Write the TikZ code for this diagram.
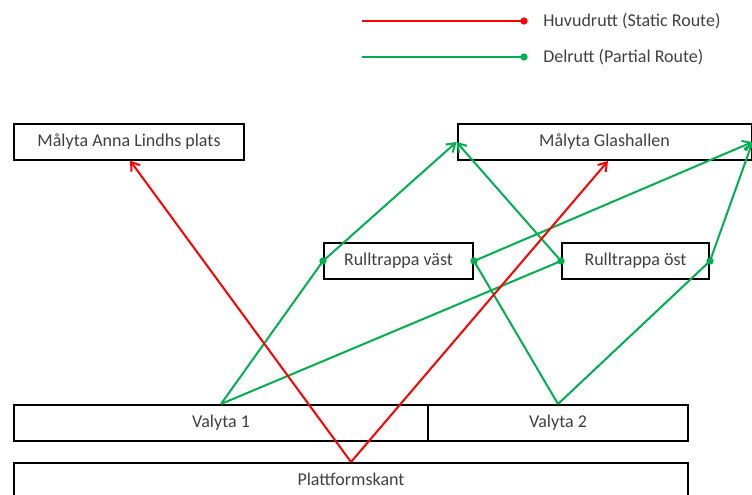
\documentclass[tikz,border=0pt]{standalone}
\usepackage{fontspec}
\setmainfont{Carlito}
\usetikzlibrary{arrows.meta,calc}
\definecolor{routered}{RGB}{255,0,0}
\definecolor{routegreen}{RGB}{0,176,80}
\definecolor{labelgray}{RGB}{64,64,64}
\begin{document}
\begin{tikzpicture}[x=0.75pt,y=-0.75pt,
  labelfont/.style={font=\fontsize{13.5}{16}\selectfont},
  area/.style={draw=black,line width=1.5pt,minimum height=27pt,inner sep=0pt,
    text=labelgray,labelfont},
  legendtext/.style={anchor=west,inner sep=0pt,text=labelgray,labelfont},
  mainroute/.style={draw=routered,line width=1.5pt},
  partroute/.style={draw=routegreen,line width=1.5pt},
  tip/.style={-{Straight Barb[length=6pt,width=8pt,line width=1.5pt]}},
  enddot/.style={circle,inner sep=0pt,minimum size=5.5pt}]
\useasboundingbox (0,0) rectangle (752,494);
\begin{scope}
\clip (0,0) rectangle (752,494);

% areas
\node[area,minimum width=172.5pt] (anna) at (129,141.5) {Målyta Anna Lindhs plats};
\node[area,minimum width=220.5pt] (glas) at (604.5,142) {Målyta Glashallen};
\node[area,minimum width=111.75pt] (vast) at (398.5,261) {Rulltrappa väst};
\node[area,minimum width=110.25pt] (ost) at (635.5,261) {Rulltrappa öst};
\node[area,minimum width=310.5pt] (val1) at (221,423) {Valyta 1};
\node[area,minimum width=195pt] (val2) at (558,423) {Valyta 2};
\node[area,minimum width=505.5pt] (platt) at (351,481) {};
\node[text=labelgray,labelfont,inner sep=0pt] (plattlabel) at (351,479) {Plattformskant};

% partial routes
\draw[partroute] (val1.north) -- (vast.west);
\draw[partroute,tip] (vast.west) -- (glas.west);
\draw[partroute] (val1.north) -- (ost.west);
\draw[partroute,tip] (ost.west) -- (glas.west);
\draw[partroute] (val2.north) -- (vast.east);
\draw[partroute,tip] (vast.east) -- (glas.east);
\draw[partroute] (val2.north) -- (ost.east);
\draw[partroute,tip] (ost.east) -- (glas.east);
\foreach \p in {vast.west,vast.east,ost.west,ost.east}
  \node[enddot,fill=routegreen] at (\p) {};

% static routes
\draw[mainroute,tip] (platt.north) -- ($(anna.south)+(1,0)$);
\draw[mainroute,tip] (platt.north) -- ($(glas.south)+(3.5,0)$);

% legend
\coordinate (redstart) at (362,21);
\coordinate (redend) at (524,21);
\coordinate (greenstart) at (362,57);
\coordinate (greenend) at (524,57);
\draw[mainroute] (redstart) -- (redend);
\node[enddot,fill=routered] (reddot) at (redend) {};
\draw[partroute] (greenstart) -- (greenend);
\node[enddot,fill=routegreen] (greendot) at (greenend) {};
\node[legendtext] (redlabel) at (543,21) {Huvudrutt (Static Route)};
\node[legendtext] (greenlabel) at (543,57) {Delrutt (Partial Route)};
\end{scope}
\end{tikzpicture}
\end{document}
